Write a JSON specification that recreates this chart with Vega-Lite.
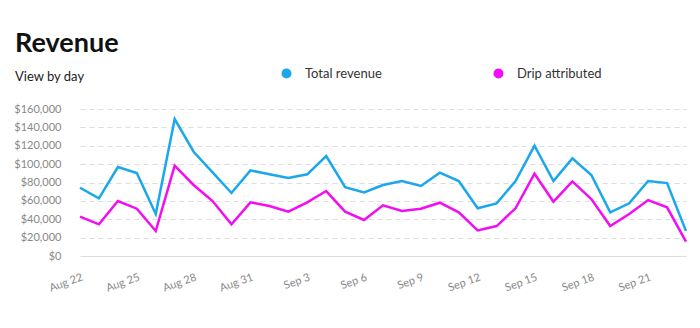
{
  "$schema": "https://vega.github.io/schema/vega-lite/v6.json",
  "width": 606,
  "height": 147,
  "autosize": {"type": "none"},
  "padding": {"left": 80, "top": 109, "right": 14, "bottom": 72},
  "background": "white",
  "title": {
    "text": "Revenue",
    "subtitle": "View by day",
    "anchor": "start",
    "frame": "group",
    "dx": -65,
    "offset": -18,
    "font": "Lato",
    "fontSize": 27,
    "fontWeight": "bold",
    "color": "#111111",
    "subtitleFont": "Lato",
    "subtitleFontSize": 13,
    "subtitleColor": "#222222",
    "subtitlePadding": 13
  },
  "config": {
    "view": {"stroke": null},
    "font": "Lato"
  },
  "data": {
    "values": [
      {"date": "2023-08-22", "series": "Total revenue", "value": 74300},
      {"date": "2023-08-23", "series": "Total revenue", "value": 62800},
      {"date": "2023-08-24", "series": "Total revenue", "value": 96800},
      {"date": "2023-08-25", "series": "Total revenue", "value": 90300},
      {"date": "2023-08-26", "series": "Total revenue", "value": 45700},
      {"date": "2023-08-27", "series": "Total revenue", "value": 149000},
      {"date": "2023-08-28", "series": "Total revenue", "value": 113500},
      {"date": "2023-08-29", "series": "Total revenue", "value": 91000},
      {"date": "2023-08-30", "series": "Total revenue", "value": 68600},
      {"date": "2023-08-31", "series": "Total revenue", "value": 93200},
      {"date": "2023-09-01", "series": "Total revenue", "value": 88900},
      {"date": "2023-09-02", "series": "Total revenue", "value": 84900},
      {"date": "2023-09-03", "series": "Total revenue", "value": 88900},
      {"date": "2023-09-04", "series": "Total revenue", "value": 108800},
      {"date": "2023-09-05", "series": "Total revenue", "value": 75000},
      {"date": "2023-09-06", "series": "Total revenue", "value": 69300},
      {"date": "2023-09-07", "series": "Total revenue", "value": 77300},
      {"date": "2023-09-08", "series": "Total revenue", "value": 81600},
      {"date": "2023-09-09", "series": "Total revenue", "value": 76200},
      {"date": "2023-09-10", "series": "Total revenue", "value": 90700},
      {"date": "2023-09-11", "series": "Total revenue", "value": 81600},
      {"date": "2023-09-12", "series": "Total revenue", "value": 51900},
      {"date": "2023-09-13", "series": "Total revenue", "value": 57300},
      {"date": "2023-09-14", "series": "Total revenue", "value": 81600},
      {"date": "2023-09-15", "series": "Total revenue", "value": 120000},
      {"date": "2023-09-16", "series": "Total revenue", "value": 81600},
      {"date": "2023-09-17", "series": "Total revenue", "value": 106300},
      {"date": "2023-09-18", "series": "Total revenue", "value": 88100},
      {"date": "2023-09-19", "series": "Total revenue", "value": 47500},
      {"date": "2023-09-20", "series": "Total revenue", "value": 57300},
      {"date": "2023-09-21", "series": "Total revenue", "value": 81600},
      {"date": "2023-09-22", "series": "Total revenue", "value": 79400},
      {"date": "2023-09-23", "series": "Total revenue", "value": 27200},
      {"date": "2023-08-22", "series": "Drip attributed", "value": 42800},
      {"date": "2023-08-23", "series": "Drip attributed", "value": 34500},
      {"date": "2023-08-24", "series": "Drip attributed", "value": 59800},
      {"date": "2023-08-25", "series": "Drip attributed", "value": 51500},
      {"date": "2023-08-26", "series": "Drip attributed", "value": 27200},
      {"date": "2023-08-27", "series": "Drip attributed", "value": 98300},
      {"date": "2023-08-28", "series": "Drip attributed", "value": 77300},
      {"date": "2023-08-29", "series": "Drip attributed", "value": 59800},
      {"date": "2023-08-30", "series": "Drip attributed", "value": 34500},
      {"date": "2023-08-31", "series": "Drip attributed", "value": 58400},
      {"date": "2023-09-01", "series": "Drip attributed", "value": 54400},
      {"date": "2023-09-02", "series": "Drip attributed", "value": 48200},
      {"date": "2023-09-03", "series": "Drip attributed", "value": 58400},
      {"date": "2023-09-04", "series": "Drip attributed", "value": 70700},
      {"date": "2023-09-05", "series": "Drip attributed", "value": 48200},
      {"date": "2023-09-06", "series": "Drip attributed", "value": 39200},
      {"date": "2023-09-07", "series": "Drip attributed", "value": 55100},
      {"date": "2023-09-08", "series": "Drip attributed", "value": 49000},
      {"date": "2023-09-09", "series": "Drip attributed", "value": 51500},
      {"date": "2023-09-10", "series": "Drip attributed", "value": 58000},
      {"date": "2023-09-11", "series": "Drip attributed", "value": 47500},
      {"date": "2023-09-12", "series": "Drip attributed", "value": 27900},
      {"date": "2023-09-13", "series": "Drip attributed", "value": 32600},
      {"date": "2023-09-14", "series": "Drip attributed", "value": 51900},
      {"date": "2023-09-15", "series": "Drip attributed", "value": 89600},
      {"date": "2023-09-16", "series": "Drip attributed", "value": 59100},
      {"date": "2023-09-17", "series": "Drip attributed", "value": 81200},
      {"date": "2023-09-18", "series": "Drip attributed", "value": 62000},
      {"date": "2023-09-19", "series": "Drip attributed", "value": 32600},
      {"date": "2023-09-20", "series": "Drip attributed", "value": 45700},
      {"date": "2023-09-21", "series": "Drip attributed", "value": 60900},
      {"date": "2023-09-22", "series": "Drip attributed", "value": 53000},
      {"date": "2023-09-23", "series": "Drip attributed", "value": 15600}
    ]
  },
  "mark": {"type": "line", "strokeWidth": 2.5, "strokeJoin": "miter"},
  "encoding": {
    "x": {
      "field": "date",
      "type": "temporal",
      "scale": {"type": "utc", "nice": false},
      "axis": {
        "title": null,
        "domain": false,
        "ticks": false,
        "grid": false,
        "labelExpr": "utcFormat(datum.value, '%b %-d')",
        "labelAngle": -20,
        "labelAlign": "right",
        "labelBaseline": "top",
        "labelPadding": 15,
        "labelFontSize": 11,
        "labelColor": "#888888",
        "labelOverlap": false,
        "labelFlush": false,
        "values": [
          {"year": 2023, "month": 8, "date": 22, "utc": true},
          {"year": 2023, "month": 8, "date": 25, "utc": true},
          {"year": 2023, "month": 8, "date": 28, "utc": true},
          {"year": 2023, "month": 8, "date": 31, "utc": true},
          {"year": 2023, "month": 9, "date": 3, "utc": true},
          {"year": 2023, "month": 9, "date": 6, "utc": true},
          {"year": 2023, "month": 9, "date": 9, "utc": true},
          {"year": 2023, "month": 9, "date": 12, "utc": true},
          {"year": 2023, "month": 9, "date": 15, "utc": true},
          {"year": 2023, "month": 9, "date": 18, "utc": true},
          {"year": 2023, "month": 9, "date": 21, "utc": true}
        ]
      }
    },
    "y": {
      "field": "value",
      "type": "quantitative",
      "scale": {"domain": [0, 160000], "nice": false},
      "axis": {
        "title": null,
        "domain": false,
        "ticks": false,
        "values": [0, 20000, 40000, 60000, 80000, 100000, 120000, 140000, 160000],
        "format": "$,.0f",
        "labelFontSize": 11,
        "labelColor": "#888888",
        "labelPadding": 19,
        "gridColor": "#dddddd",
        "gridWidth": 1,
        "gridDash": {"condition": {"test": "datum.value === 0", "value": []}, "value": [5, 4]}
      }
    },
    "color": {
      "field": "series",
      "type": "nominal",
      "sort": ["Total revenue", "Drip attributed"],
      "scale": {"domain": ["Total revenue", "Drip attributed"], "range": ["#1aa7ec", "#f20df2"]},
      "legend": {
        "title": null,
        "orient": "none",
        "legendX": 200,
        "legendY": -42,
        "direction": "horizontal",
        "symbolType": "circle",
        "symbolSize": 25,
        "symbolStrokeWidth": 5,
        "symbolOpacity": 1,
        "labelFontSize": 13,
        "labelColor": "#333333",
        "labelOffset": 12,
        "columnPadding": 104
      }
    }
  }
}
